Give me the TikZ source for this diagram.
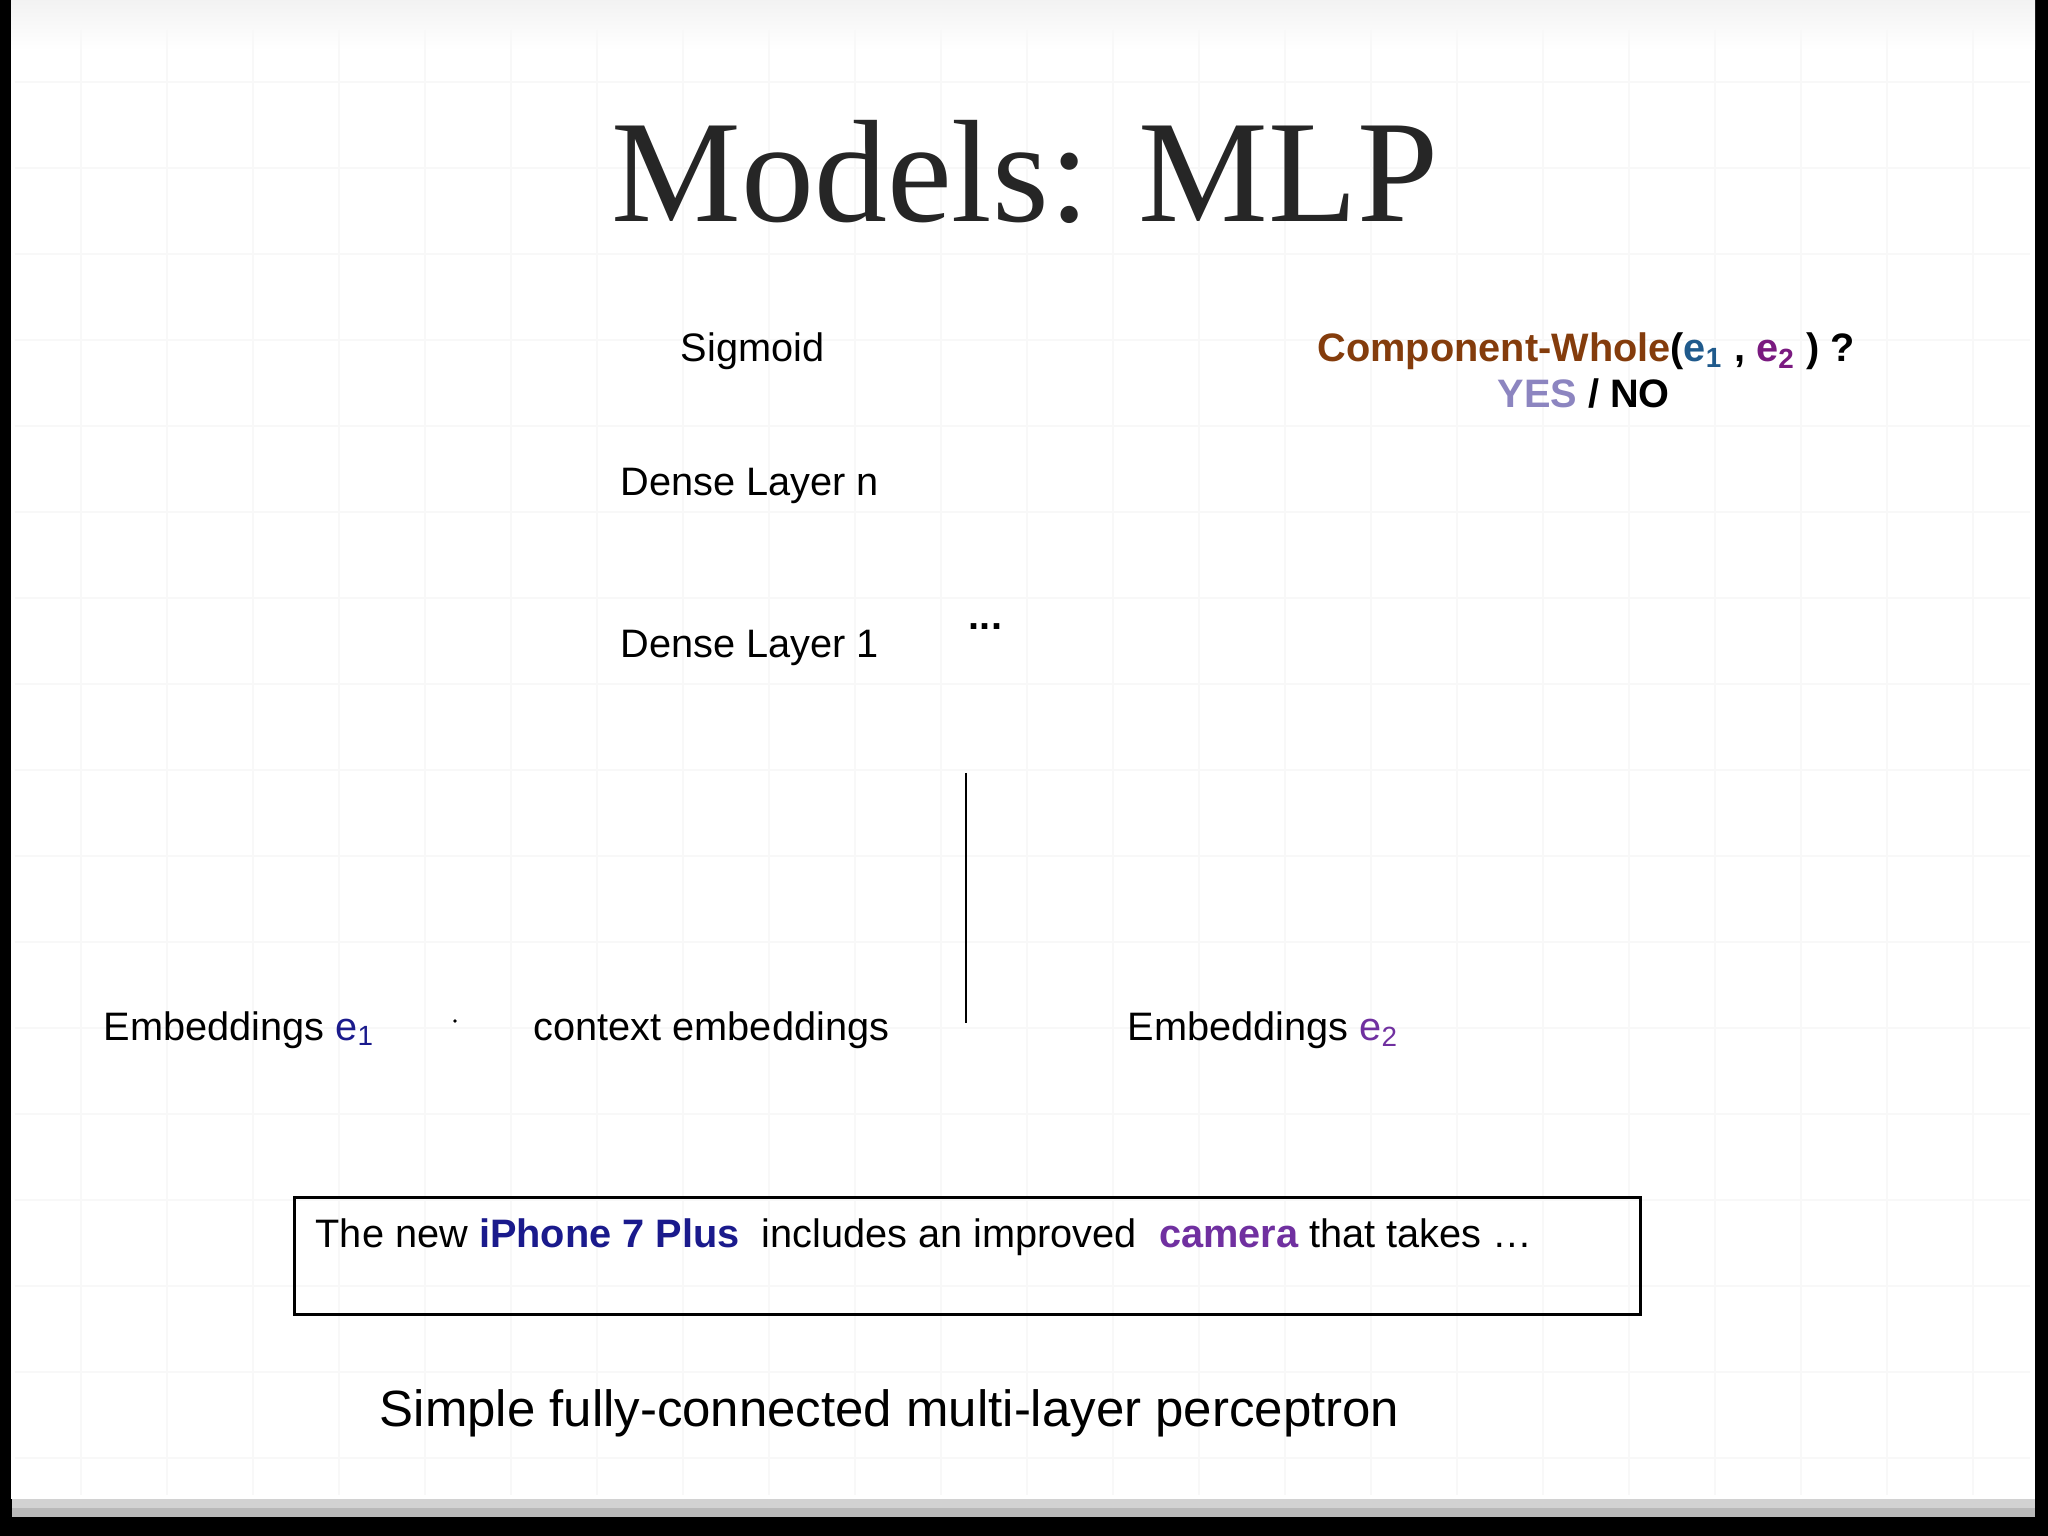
\documentclass[tikz,border=0pt]{standalone}
\usepackage{fontspec}
\setmainfont{Liberation Serif}
\setsansfont{Liberation Sans}
\usetikzlibrary{calc}
\definecolor{titleGray}{RGB}{38,38,38}
\definecolor{cwBrown}{RGB}{132,60,12}
\definecolor{cwBlue}{RGB}{31,90,140}
\definecolor{cwPurple}{RGB}{122,26,128}
\definecolor{yesLilac}{RGB}{140,133,192}
\definecolor{entOne}{RGB}{26,26,140}
\definecolor{entTwo}{RGB}{112,48,160}
\definecolor{gridLine}{RGB}{248,248,248}
\tikzset{
  txt/.style = {font=\sffamily\fontsize{11.3}{13.5}\selectfont, inner sep=0pt, anchor=base west},
  bigTxt/.style = {font=\sffamily\fontsize{14.5}{17}\selectfont, inner sep=0pt, anchor=base west},
  headTxt/.style = {font=\rmfamily\fontsize{41.5}{48}\selectfont, text=titleGray, inner sep=0pt, anchor=base},
  link/.style = {color=#1, line width=0.5pt},
  frame/.style = {draw=black, line width=0.8pt, inner sep=0pt},
  grid line/.style = {color=gridLine, line width=0.6pt}
}

\begin{document}
\begin{tikzpicture}
    \useasboundingbox (0,0) rectangle (20.48,-15.36);

    %==== Slide page ====
    \begin{scope}
        % Background and paper
        \fill[black] (0,0) rectangle (20.48,-15.36);
        \fill[gray!55] (0.12,-14.95) rectangle (20.35,-15.17);
        \fill[gray!35] (0.12,-14.95) rectangle (20.35,-15.08);
        \fill[white] (0.11,0) rectangle (20.35,-14.99);
        \shade[top color=gray!10, bottom color=white] (0.11,0) rectangle (20.35,-0.5);

        % Notebook grid
        \foreach \i in {0,...,22} {
            \draw[grid line] ({0.81+0.86*\i},-0.3) -- ({0.81+0.86*\i},-14.95);
        }
        \foreach \j in {0,...,16} {
            \draw[grid line] (0.15,{-0.82-0.86*\j}) -- (20.3,{-0.82-0.86*\j});
        }
    \end{scope}

    %==== Title ====
    \node[headTxt] (title) at (10.25,-2.22) {Models: MLP};

    %==== Network layers ====
    \node[txt] (sigmoid) at (6.80,-3.62) {Sigmoid};
    \node[txt] (denseN) at (6.20,-4.96) {Dense Layer n};
    \node[txt] (dense1) at (6.20,-6.57) {Dense Layer 1};
    \node[txt, anchor=base] (dots) at (9.855,-6.30) {\textbf{...}};

    %==== Question ====
    \node[txt] (question) at (13.17,-3.62)
        {\textbf{\textcolor{cwBrown}{Component-Whole}(\textcolor{cwBlue}{e\textsubscript{1}} , \textcolor{cwPurple}{e\textsubscript{2}} ) ?}};
    \node[txt] (answer) at (14.97,-4.08) {\textbf{\textcolor{yesLilac}{YES} / NO}};

    %==== Embeddings ====
    \node[txt] (embOne) at (1.03,-10.40) {Embeddings \textcolor{entOne}{e\textsubscript{1}}};
    \node[txt] (context) at (5.33,-10.40) {context embeddings};
    \node[txt] (embTwo) at (11.27,-10.40) {Embeddings \textcolor{entTwo}{e\textsubscript{2}}};
    \coordinate (speck) at (4.55,-10.21);
    \fill[black] (speck) circle (0.5pt);

    % Separator line
    \coordinate (lineTop) at (9.66,-7.73);
    \coordinate (lineBot) at (9.66,-10.23);
    \draw[link={black}] (lineTop) -- (lineBot);

    %==== Input sentence ====
    \node[frame, minimum width=13.46cm, minimum height=1.17cm, anchor=north west] (sentBox) at (2.93,-11.96) {};
    \node[txt] (sentence) at ($(sentBox.north west)+(0.22,-0.51)$)
        {The new \textbf{\textcolor{entOne}{iPhone 7 Plus}}\ \ includes an improved\ \ \textbf{\textcolor{entTwo}{camera}} that takes \dots};

    %==== Caption ====
    \node[bigTxt] (caption) at (3.79,-14.26) {Simple fully-connected multi-layer perceptron};

\end{tikzpicture}
\end{document}
